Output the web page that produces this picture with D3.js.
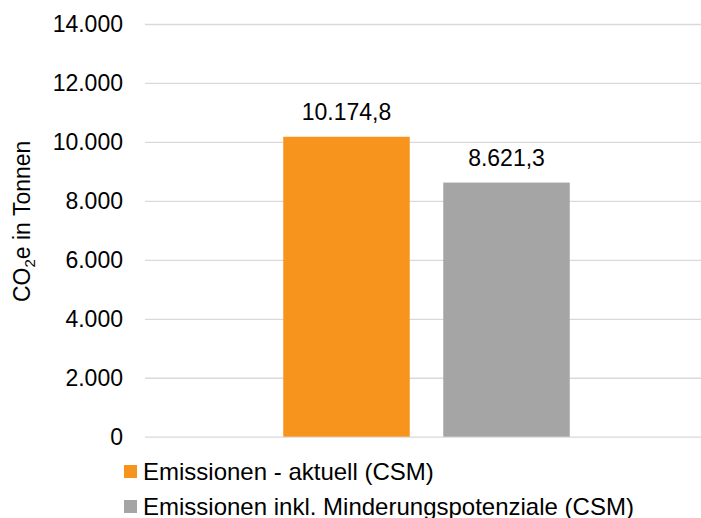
<!DOCTYPE html>
<html>
<head>
<meta charset="utf-8">
<script src="https://cdn.jsdelivr.net/npm/d3@7"></script>
<style>
  html, body { margin: 0; padding: 0; background: #fff; }
  svg { display: block; }
  text { font-family: Arial, "Liberation Sans", sans-serif; fill: #000; }
</style>
</head>
<body>
<svg id="chart" width="701" height="518"></svg>
<script>
// CO2e emissions: current vs. including reduction potentials
const categories = ["Gesamt"];
const seriesNames = ["Emissionen - aktuell (CSM)", "Emissionen inkl. Minderungspotenziale (CSM)"];
const seriesValues = [10174.8, 8621.3];
const seriesColors = ["#F7941E", "#A5A5A5"];
const yTicks = [0, 2000, 4000, 6000, 8000, 10000, 12000, 14000];

const plot = { left: 145, right: 708, top: 24, bottom: 436.7 };
const fontSize = 23;

const svg = d3.select("#chart");

// German number formatting: "." thousands, "," decimals
const de = d3.formatLocale({ decimal: ",", thousands: ".", grouping: [3], currency: ["", " €"] });
const fmtTick = de.format(",.0f");
const fmtVal = de.format(",.1f");

const y = d3.scaleLinear().domain([0, 14000]).range([plot.bottom, plot.top]);
const x0 = d3.scaleBand().domain(categories).range([plot.left, plot.right])
  .paddingInner(0).paddingOuter(0.4825);
const x1 = d3.scaleBand().domain(seriesNames).range([0, x0.bandwidth()])
  .paddingInner(0.2094).paddingOuter(0);
const color = d3.scaleOrdinal().domain(seriesNames).range(seriesColors);

// horizontal gridlines + tick labels
const yAxis = d3.axisLeft(y).tickValues(yTicks).tickFormat(fmtTick)
  .tickSize(-(plot.right - plot.left)).tickPadding(22);
const gy = svg.append("g").attr("transform", `translate(${plot.left},0)`).call(yAxis);
gy.select(".domain").remove();
gy.selectAll(".tick line").attr("stroke", "#d9d9d9").attr("stroke-width", 1.3);
gy.selectAll(".tick text")
  .attr("font-size", fontSize)
  .attr("font-family", "Arial, 'Liberation Sans', sans-serif")
  .attr("fill", "#000");

// bars
const rows = seriesNames.map((s, i) => ({ cat: categories[0], series: s, value: seriesValues[i] }));
const g = svg.append("g");
g.selectAll("rect.bar").data(rows).join("rect")
  .attr("class", "bar")
  .attr("x", d => x0(d.cat) + x1(d.series))
  .attr("y", d => y(d.value))
  .attr("width", x1.bandwidth())
  .attr("height", d => y(0) - y(d.value))
  .attr("fill", d => color(d.series));

// value labels
g.selectAll("text.val").data(rows).join("text")
  .attr("class", "val")
  .attr("x", d => x0(d.cat) + x1(d.series) + x1.bandwidth() / 2)
  .attr("y", d => y(d.value) - 16.3)
  .attr("text-anchor", "middle")
  .attr("font-size", fontSize)
  .text(d => fmtVal(d.value));

// y-axis title with subscript
const title = svg.append("text")
  .attr("transform", `translate(30,${(plot.top + plot.bottom) / 2 - 9}) rotate(-90)`)
  .attr("text-anchor", "middle")
  .attr("font-size", fontSize);
title.append("tspan").text("CO");
title.append("tspan").attr("font-size", 15).attr("dy", 5).text("2");
title.append("tspan").attr("dy", -5).text("e in Tonnen");

// legend
const legend = svg.append("g");
const lg = legend.selectAll("g").data(seriesNames).join("g")
  .attr("transform", (d, i) => `translate(124,${465 + i * 35})`);
lg.append("rect").attr("width", 13).attr("height", 13).attr("fill", d => color(d));
lg.append("text").attr("x", 19).attr("y", 14.5).attr("font-size", 24).text(d => d);
</script>
</body>
</html>
